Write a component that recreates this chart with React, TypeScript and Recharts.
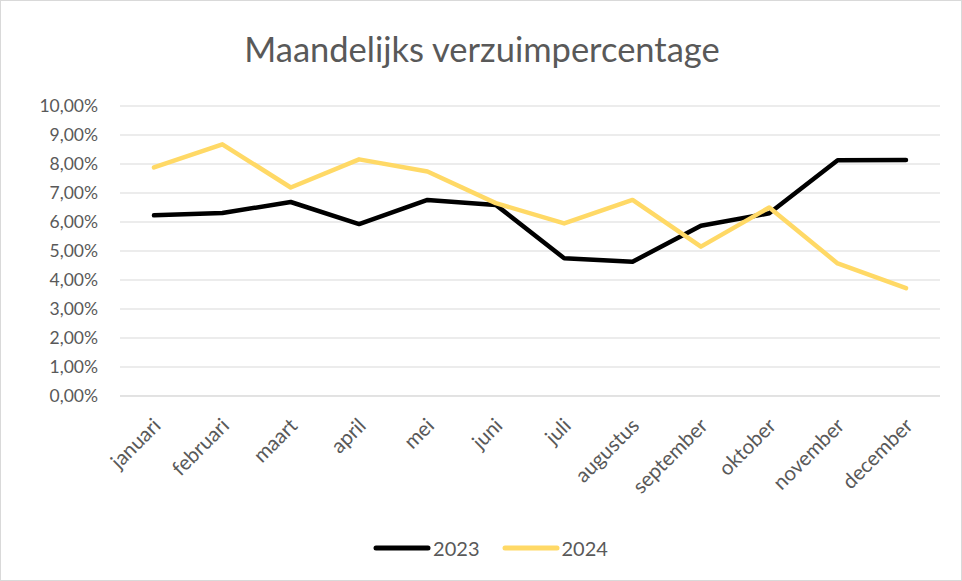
import React from "react";
import {
  LineChart,
  Line,
  XAxis,
  YAxis,
  CartesianGrid,
  Legend,
} from "recharts";

const months = [
  "januari",
  "februari",
  "maart",
  "april",
  "mei",
  "juni",
  "juli",
  "augustus",
  "september",
  "oktober",
  "november",
  "december",
];
const values2023 = [6.23, 6.31, 6.69, 5.93, 6.76, 6.59, 4.75, 4.63, 5.87, 6.3, 8.13, 8.14];
const values2024 = [7.88, 8.68, 7.19, 8.16, 7.74, 6.65, 5.95, 6.76, 5.15, 6.5, 4.57, 3.72];
const yTicks = [0, 1, 2, 3, 4, 5, 6, 7, 8, 9, 10];

const data = months.map((m, i) => ({
  month: m,
  y2023: values2023[i],
  y2024: values2024[i],
}));

const FONT = "Lato, 'Open Sans', sans-serif";
const TEXT = "#595959";

function MonthTick(props: any) {
  const { x, y, payload } = props;
  return (
    <g transform={`translate(${x + 8},${y + 23})`}>
      <text
        textAnchor="end"
        transform="rotate(-45)"
        fontSize={20.5}
        fill={TEXT}
        fontFamily={FONT}
      >
        {payload.value}
      </text>
    </g>
  );
}

function LegendContent() {
  const items = [
    { label: "2023", color: "#000000" },
    { label: "2024", color: "#FFD966" },
  ];
  return (
    <div style={{ display: "flex", justifyContent: "center", gap: 22, paddingLeft: 40 }}>
      {items.map((it) => (
        <div key={it.label} style={{ display: "flex", alignItems: "center" }}>
          <svg width={58} height={10}>
            <line x1={3} y1={5} x2={55} y2={5} stroke={it.color} strokeWidth={5} strokeLinecap="round" />
          </svg>
          <span style={{ fontFamily: FONT, fontSize: 20, color: TEXT, marginLeft: 2 }}>{it.label}</span>
        </div>
      ))}
    </div>
  );
}

export default function App() {
  return (
    <div
      style={{
        position: "absolute",
        left: 0,
        top: 0,
        width: 962,
        height: 581,
        background: "#fff",
        boxSizing: "border-box",
        border: "1px solid #d9d9d9",
      }}
    >
      <div
        style={{
          position: "absolute",
          top: 27,
          left: 0,
          width: 962,
          textAlign: "center",
          fontFamily: FONT,
          fontSize: 34.5,
          color: TEXT,
        }}
      >
        Maandelijks verzuimpercentage
      </div>
      <LineChart
        width={960}
        height={579}
        data={data}
        margin={{ top: 105, right: 21, left: 0, bottom: 20 }}
      >
        <CartesianGrid stroke="#d9d9d9" vertical={false} />
        <XAxis
          dataKey="month"
          tick={<MonthTick />}
          tickLine={false}
          axisLine={{ stroke: "#d9d9d9" }}
          interval={0}
          height={140}
          padding={{ left: 34, right: 34 }}
        />
        <YAxis
          domain={[0, 10]}
          ticks={yTicks}
          width={119}
          tickLine={false}
          axisLine={false}
          tickFormatter={(v: number) => v.toFixed(2).replace(".", ",") + "%"}
          tick={{ fontSize: 17.5, fill: TEXT, fontFamily: FONT }}
          tickMargin={16}
        />
        <Legend
          verticalAlign="bottom"
          content={<LegendContent />}
          wrapperStyle={{ bottom: 20 }}
        />
        <Line
          dataKey="y2023"
          name="2023"
          stroke="#000000"
          strokeWidth={4.5}
          dot={false}
          strokeLinejoin="round"
          strokeLinecap="round"
          isAnimationActive={false}
        />
        <Line
          dataKey="y2024"
          name="2024"
          stroke="#FFD966"
          strokeWidth={4.5}
          dot={false}
          strokeLinejoin="round"
          strokeLinecap="round"
          isAnimationActive={false}
        />
      </LineChart>
    </div>
  );
}
